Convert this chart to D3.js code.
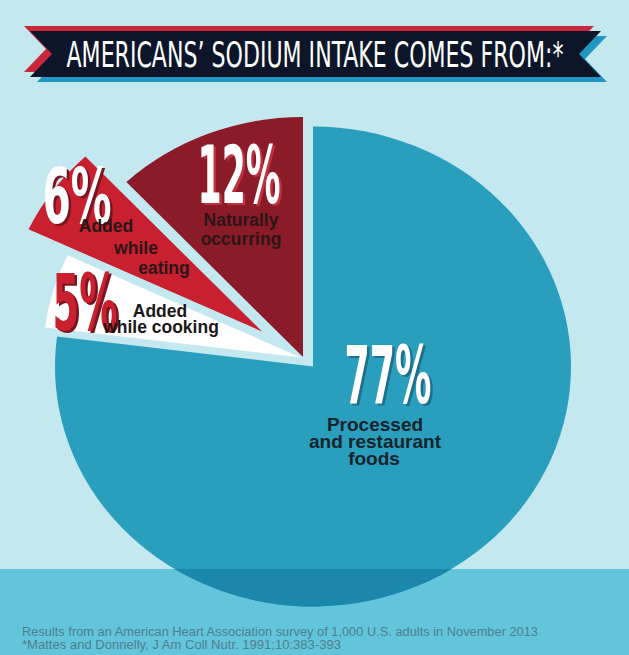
<!DOCTYPE html>
<html>
<head>
<meta charset="utf-8">
<script src="https://cdn.jsdelivr.net/npm/d3@7"></script>
<style>
  html, body { margin: 0; padding: 0; background: #c3e8f0; }
  svg { display: block; }
</style>
</head>
<body>
<svg id="chart" width="629" height="655"></svg>
<script>
// ---------- data ----------
const title = "AMERICANS\u2019 SODIUM INTAKE COMES FROM:*";
const categories = ["Processed and restaurant foods", "Added while cooking", "Added while eating", "Naturally occurring"];
const values = [77, 5, 6, 12];
const labelLines = [
  ["Processed", "and restaurant", "foods"],
  ["Added", "while cooking"],
  ["Added", "while", "eating"],
  ["Naturally", "occurring"]
];
const footnotes = [
  "Results from an American Heart Association survey of 1,000 U.S. adults in November 2013",
  "*Mattes and Donnelly, J Am Coll Nutr. 1991;10:383-393"
];

// ---------- layout / style ----------
const W = 629, H = 655;
const cx = 313, cy = 366.5, R = 240, sx = 1.075;
const bandTop = 569;
const sliceFill = ["#2a9ebd", "#ffffff", "#c8202f", "#8c1b2a"];
const explode = [[0, 0], [-12, -9], [-51, -35], [-10, -9.5]];
const pctStyle = [
  {fill: "#ffffff", shadow: "#1d6f8c", x: 388, y: 403, len: 87, size: 80},
  {fill: "#c8202f", shadow: "#7a1420", x: 85, y: 330, len: 65, size: 78},
  {fill: "#ffffff", shadow: "#7a1420", x: 77, y: 223, len: 69, size: 76},
  {fill: "#ffffff", shadow: "#c0303f", x: 239, y: 203, len: 83, size: 80}
];
const lblStyle = [
  {lines: [[375, 431], [375, 448], [374, 465]], anchor: "middle", size: 19, fill: "#16242c"},
  {lines: [[160, 317], [161, 333]], anchor: "middle", size: 17.5, fill: "#1c1616"},
  {lines: [[106, 232], [136, 254], [164, 274]], anchor: "middle", size: 17.5, fill: "#2a1616"},
  {lines: [[241, 226], [241, 245]], anchor: "middle", size: 17.5, fill: "#2a1616"}
];
const footLen = [516, 319];

const svg = d3.select("#chart");

// background
svg.append("rect").attr("width", W).attr("height", H).attr("fill", "#c3e8f0");
svg.append("rect").attr("x", 0).attr("y", bandTop).attr("width", W).attr("height", H - bandTop).attr("fill", "#62c5dc");

// ---------- title ribbon ----------
function ribbon(x0, x1, y0, y1, n) {
  const m = (y0 + y1) / 2;
  return [[x0, y0], [x1, y0], [x1 - n, m], [x1, y1], [x0, y1], [x0 + n, m]].map(p => p.join(",")).join(" ");
}
svg.append("polygon").attr("points", ribbon(24, 594, 26, 72, 22)).attr("fill", "#c9283a");
svg.append("polygon").attr("points", ribbon(37, 607, 36, 82, 22)).attr("fill", "#2196c0");
svg.append("polygon").attr("points", ribbon(30, 601, 31, 77, 22)).attr("fill", "#0c1628");
svg.append("text")
  .attr("x", 315).attr("y", 66.5)
  .attr("text-anchor", "middle")
  .attr("font-family", "'DejaVu Sans Condensed', 'DejaVu Sans', sans-serif")
  .attr("font-size", 35)
  .attr("textLength", 497).attr("lengthAdjust", "spacingAndGlyphs")
  .attr("fill", "#ffffff")
  .text(title);

// ---------- pie ----------
const data = categories.map((c, i) => ({cat: c, value: values[i], idx: i}));
const pie = d3.pie().sort(null).value(d => d.value).startAngle(0).endAngle(2 * Math.PI);
const arcs = pie(data);
const arc = d3.arc().innerRadius(0).outerRadius(R);

const defs = svg.append("defs");
defs.append("clipPath").attr("id", "bandClip")
  .append("rect").attr("x", 0).attr("y", bandTop).attr("width", W).attr("height", H - bandTop);

const g = svg.append("g");
arcs.forEach((a, i) => {
  const sg = g.append("g")
    .attr("transform", `translate(${cx + explode[i][0]},${cy + explode[i][1]}) scale(${sx},1)`);
  sg.append("path").attr("d", arc(a)).attr("fill", sliceFill[i]);
});
// darker part of the main slice inside the bottom band
svg.append("g").attr("clip-path", "url(#bandClip)")
  .append("g").attr("transform", `translate(${cx + explode[0][0]},${cy + explode[0][1]}) scale(${sx},1)`)
  .append("path").attr("d", arc(arcs[0])).attr("fill", "#1a87ab");

// ---------- percentages ----------
const numFont = "'DejaVu Sans Condensed', 'Liberation Sans Narrow', sans-serif";
arcs.forEach((a, i) => {
  const s = pctStyle[i];
  const t = a.data.value + "%";
  [[s.shadow, 2.5, 2], [s.fill, 0, 0]].forEach(([col, dx, dy]) => {
    svg.append("text")
      .attr("x", s.x + dx).attr("y", s.y + dy)
      .attr("text-anchor", "middle")
      .attr("font-family", numFont)
      .attr("font-weight", "bold")
      .attr("font-size", s.size)
      .attr("textLength", s.len).attr("lengthAdjust", "spacingAndGlyphs")
      .attr("fill", col)
      .text(t);
  });
});

// ---------- category labels ----------
labelLines.forEach((lines, i) => {
  const s = lblStyle[i];
  lines.forEach((ln, j) => {
    svg.append("text")
      .attr("x", s.lines[j][0]).attr("y", s.lines[j][1])
      .attr("text-anchor", s.anchor)
      .attr("font-family", "'Liberation Sans', Arial, sans-serif")
      .attr("font-weight", "bold")
      .attr("font-size", s.size)
      .attr("fill", s.fill)
      .text(ln);
  });
});

// ---------- footnotes ----------
footnotes.forEach((f, i) => {
  svg.append("text")
    .attr("x", 22).attr("y", 636 + i * 13)
    .attr("font-family", "'Liberation Sans', Arial, sans-serif")
    .attr("font-size", 12.5)
    .attr("textLength", footLen[i]).attr("lengthAdjust", "spacingAndGlyphs")
    .attr("fill", "#4f7e8c")
    .text(f);
});
</script>
</body>
</html>
